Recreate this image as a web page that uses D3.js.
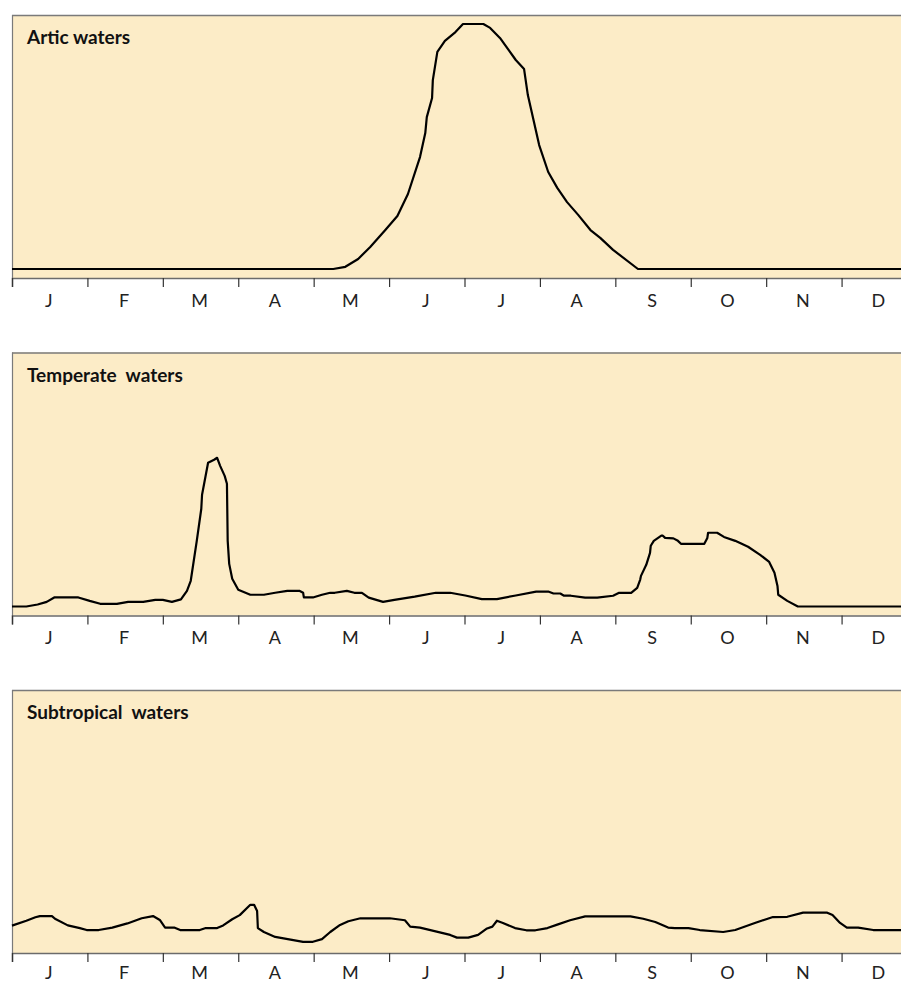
<!DOCTYPE html>
<html>
<head>
<meta charset="utf-8">
<script src="https://cdn.jsdelivr.net/npm/d3@7"></script>
<style>
  html, body { margin: 0; padding: 0; background: #ffffff; }
  svg { display: block; }
</style>
</head>
<body>
<div id="chart"></div>
<script>
// ---- data ----
const months = ["J","F","M","A","M","J","J","A","S","O","N","D"];
const panelTitles = ["Artic waters", "Temperate  waters", "Subtropical  waters"];

// x: time of year in months (0 = 1 January, 12 = 31 December); y: relative abundance (0-100)
const arcticMonth = [0, 4.26, 4.42, 4.59, 4.75, 4.95, 5.11, 5.25, 5.41, 5.48, 5.50, 5.57, 5.58, 5.64, 5.74, 5.88, 5.98, 6.25, 6.34, 6.47, 6.68, 6.79, 6.84, 6.99, 7.11, 7.23, 7.36, 7.51, 7.67, 7.80, 7.97, 8.30, 12];
const arcticValue = [0, 0, 0.9, 4.1, 9.0, 15.9, 21.6, 30.6, 45.7, 55.5, 62.0, 69.8, 77.1, 88.6, 93.1, 96.7, 100, 100, 98.4, 94.3, 85.3, 81.6, 71.0, 50.6, 39.6, 33.1, 27.3, 22.0, 15.9, 12.7, 7.8, 0, 0];

const temperateMonth = [0, 0.19, 0.34, 0.46, 0.56, 0.88, 1.03, 1.17, 1.39, 1.54, 1.74, 1.90, 2.00, 2.12, 2.24, 2.32, 2.37, 2.45, 2.51, 2.52, 2.60, 2.68, 2.72, 2.76, 2.82, 2.85, 2.86, 2.88, 2.92, 3.00, 3.16, 3.34, 3.49, 3.65, 3.81, 3.86, 3.87, 3.99, 4.11, 4.22, 4.28, 4.44, 4.54, 4.64, 4.73, 4.92, 5.07, 5.34, 5.62, 5.81, 6.01, 6.23, 6.43, 6.68, 6.95, 7.11, 7.18, 7.27, 7.32, 7.41, 7.60, 7.76, 7.97, 8.05, 8.21, 8.29, 8.33, 8.34, 8.41, 8.46, 8.47, 8.51, 8.61, 8.63, 8.66, 8.77, 8.83, 8.87, 9.18, 9.22, 9.23, 9.35, 9.44, 9.59, 9.76, 9.92, 10.04, 10.11, 10.15, 10.16, 10.28, 10.42, 12];
const temperateValue = [0, 0, 0.8, 1.9, 3.7, 3.7, 2.3, 1.1, 1.1, 1.9, 1.9, 2.7, 2.7, 1.9, 2.9, 6.4, 10.5, 26.8, 39.9, 45.6, 58.7, 59.9, 60.7, 57.4, 53.3, 50.1, 26.8, 17.4, 11.3, 6.8, 4.8, 4.8, 5.6, 6.4, 6.4, 5.6, 3.7, 3.7, 4.8, 5.6, 5.6, 6.4, 5.6, 5.6, 3.6, 1.9, 2.7, 4.0, 5.6, 5.6, 4.5, 3.0, 3.0, 4.5, 6.1, 6.1, 5.3, 5.3, 4.4, 4.4, 3.6, 3.6, 4.4, 5.6, 5.6, 7.6, 11.0, 12.5, 17.0, 21.9, 24.8, 26.8, 28.9, 28.9, 28.0, 27.8, 26.8, 25.6, 25.6, 28.0, 30.1, 30.1, 28.4, 26.8, 24.4, 21.1, 18.2, 13.8, 8.4, 4.8, 2.3, 0, 0];

const subtropicalMonth = [0, 0.19, 0.31, 0.37, 0.53, 0.57, 0.74, 0.90, 0.99, 1.15, 1.33, 1.53, 1.72, 1.87, 1.96, 2.03, 2.15, 2.23, 2.49, 2.57, 2.72, 2.80, 2.92, 3.02, 3.16, 3.21, 3.25, 3.26, 3.34, 3.49, 3.86, 3.99, 4.11, 4.22, 4.35, 4.46, 4.62, 5.01, 5.21, 5.28, 5.41, 5.81, 5.90, 6.05, 6.18, 6.29, 6.37, 6.43, 6.51, 6.67, 6.82, 6.94, 7.10, 7.23, 7.40, 7.60, 8.20, 8.37, 8.53, 8.70, 8.79, 8.97, 9.12, 9.43, 9.59, 9.85, 10.09, 10.28, 10.49, 10.81, 10.88, 10.98, 11.07, 11.22, 11.42, 12];
const subtropicalValue = [7.5, 9.5, 10.9, 11.4, 11.4, 10.3, 7.6, 6.5, 5.7, 5.7, 6.7, 8.4, 10.5, 11.4, 9.8, 6.7, 6.7, 5.7, 5.7, 6.5, 6.5, 7.6, 10.1, 11.8, 16.0, 16.0, 13.5, 6.5, 4.9, 2.9, 0.9, 0.9, 2.0, 4.9, 7.8, 9.3, 10.5, 10.5, 9.7, 7.1, 6.7, 3.7, 2.6, 2.6, 3.7, 6.2, 7.1, 9.5, 8.6, 6.5, 5.6, 5.6, 6.5, 7.9, 9.7, 11.3, 11.3, 10.3, 9.0, 6.7, 6.5, 6.5, 5.7, 4.9, 5.7, 8.6, 11.0, 11.1, 12.8, 12.8, 11.8, 8.6, 6.7, 6.7, 5.7, 5.7];

const seriesMonths = [arcticMonth, temperateMonth, subtropicalMonth];
const seriesValues = [arcticValue, temperateValue, subtropicalValue];

// ---- layout ----
const W = 901, H = 983;
const panelTops = [15, 352.5, 690];
const panelH = 263;
const left = 12, right = 917;

const svg = d3.select("#chart").append("svg")
  .attr("width", W).attr("height", H)
  .attr("viewBox", `0 0 ${W} ${H}`);

const x = d3.scaleLinear().domain([0, 12]).range([left, right]);
const xBand = d3.scaleBand().domain(d3.range(12)).range([left, right]);
const y = d3.scaleLinear().domain([0, 100]).range([254, 9]);

const line = d3.line().x(d => x(d[0])).y(d => y(d[1]));

panelTitles.forEach((title, i) => {
  const g = svg.append("g").attr("transform", `translate(0,${panelTops[i]})`);

  // background
  g.append("rect")
    .attr("x", left).attr("y", 0)
    .attr("width", right - left).attr("height", panelH)
    .attr("fill", "#fcecc7");

  // top border
  g.append("line")
    .attr("x1", left).attr("x2", right)
    .attr("y1", 0.5).attr("y2", 0.5)
    .attr("stroke", "#7a7a7a").attr("stroke-width", 1.3);
  // left border
  g.append("line")
    .attr("x1", left + 0.5).attr("x2", left + 0.5)
    .attr("y1", 0).attr("y2", panelH)
    .attr("stroke", "#7a7a7a").attr("stroke-width", 1.2);

  // title
  g.append("text")
    .attr("x", 27).attr("y", 29)
    .attr("font-family", "Lato, 'Noto Sans', sans-serif")
    .attr("font-weight", "bold")
    .attr("font-size", 19)
    .attr("fill", "#111")
    .style("white-space", "pre")
    .text(title);

  // data line
  const pts = seriesMonths[i].map((m, k) => [m, seriesValues[i][k]]);
  g.append("path")
    .datum(pts)
    .attr("fill", "none")
    .attr("stroke", "#000")
    .attr("stroke-width", 2.2)
    .attr("stroke-linejoin", "round")
    .attr("d", line);

  // axis
  const axis = d3.axisBottom(x)
    .tickValues(d3.range(0, 12))
    .tickSize(9)
    .tickFormat("");
  const ag = g.append("g").attr("transform", `translate(0,${panelH})`).call(axis);
  ag.select(".domain").attr("stroke", "#6b6b6b").attr("stroke-width", 1.5);
  ag.selectAll(".tick line").attr("stroke", "#333").attr("stroke-width", 1.2);

  // month labels (kept inside the picture for the last panel)
  const labelY = Math.min(panelH + 28.5, H - 4.5 - panelTops[i]);
  g.selectAll("text.month")
    .data(months)
    .enter().append("text")
    .attr("class", "month")
    .attr("x", (d, k) => xBand(k) + xBand.bandwidth() / 2 - 1)
    .attr("y", labelY)
    .attr("text-anchor", "middle")
    .attr("font-family", "Lato, 'Noto Sans', sans-serif")
    .attr("font-size", 18)
    .attr("fill", "#222")
    .text(d => d);
});
</script>
</body>
</html>
